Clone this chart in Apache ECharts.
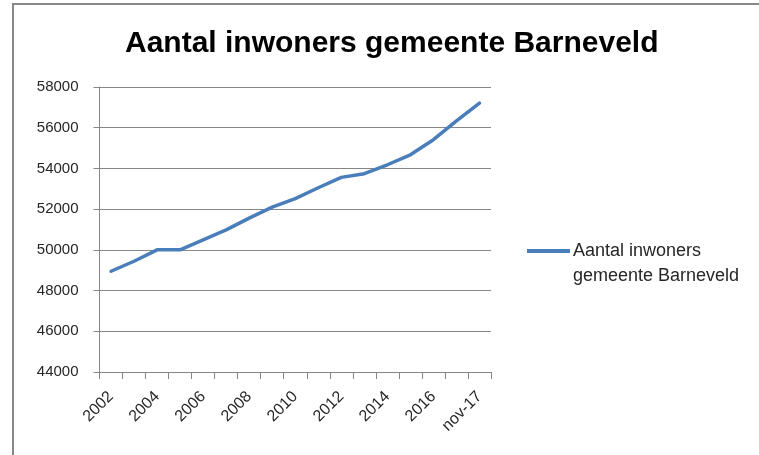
<!DOCTYPE html>
<html>
<head>
<meta charset="utf-8">
<script src="https://cdn.jsdelivr.net/npm/echarts@6/dist/echarts.min.js"></script>
<style>
	html, body { margin: 0; padding: 0; background: #fff; }
	#wrap { position: relative; width: 759px; height: 455px; overflow: hidden; }
	#frame { position: absolute; left: 12px; top: 3px; width: 800px; height: 500px; border: 2px solid #888; box-sizing: border-box; }
	#chart { position: absolute; left: 0; top: 0; width: 759px; height: 455px; }
</style>
</head>
<body>
<div id="wrap">
	<div id="frame"></div>
	<div id="chart"></div>
</div>
<script>
// categories (label shown every other year)
var years = ['2002', '2003', '2004', '2005', '2006', '2007', '2008', '2009', '2010',
	'2011', '2012', '2013', '2014', '2015', '2016', '2017', 'nov-17'];
// inhabitants
var inwoners = [48950, 49440, 50000, 50000, 50490, 50980, 51560, 52100, 52520,
	53050, 53560, 53740, 54180, 54670, 55410, 56340, 57210];
var yTicks = [44000, 46000, 48000, 50000, 52000, 54000, 56000, 58000];
var seriesName = 'Aantal inwoners gemeente Barneveld';

var chart = echarts.init(document.getElementById('chart'));
var axisColor = '#868686';
var textColor = '#262626';

chart.setOption({
	animation: false,
	title: {
		text: seriesName,
		left: 125,
		top: 29,
		padding: 0,
		textStyle: {
			fontFamily: 'Liberation Sans',
			fontWeight: 'bold',
			fontSize: 30,
			color: '#000'
		}
	},
	grid: {
		left: 99.5,
		right: 268,
		top: 87,
		bottom: 83
	},
	legend: {
		data: [seriesName],
		left: 527,
		top: 239,
		padding: 0,
		orient: 'vertical',
		itemWidth: 43,
		itemHeight: 42,
		itemGap: 0,
		icon: 'path://M0,0H0.1V0H0Z M0,6H43V10H0Z M0,42H0.1V42H0Z',
		formatter: function() {
			return 'Aantal inwoners\ngemeente Barneveld';
		},
		textStyle: {
			fontFamily: 'Liberation Sans',
			fontSize: 18,
			lineHeight: 25,
			color: textColor,
			padding: [0, 0, 0, -2]
		}
	},
	xAxis: [{
		type: 'category',
		data: years,
		boundaryGap: true,
		axisLine: { lineStyle: { color: axisColor, width: 1 } },
		axisTick: { show: true, length: 7, interval: 0, lineStyle: { color: axisColor } },
		axisLabel: {
			interval: 1,
			rotate: 45,
			margin: 22,
			fontFamily: 'Liberation Sans',
			fontSize: 16,
			color: textColor
		},
		splitLine: { show: false }
	}],
	yAxis: [{
		type: 'value',
		min: yTicks[0],
		max: yTicks[yTicks.length - 1],
		interval: 2000,
		axisLine: { show: true, lineStyle: { color: axisColor, width: 1 } },
		axisTick: { show: true, length: 6, lineStyle: { color: axisColor } },
		axisLabel: {
			margin: 21,
			fontFamily: 'Liberation Sans',
			fontSize: 15,
			color: textColor,
			formatter: function(v) { return String(v); }
		},
		splitLine: { show: true, lineStyle: { color: axisColor, width: 1 } }
	}],
	series: [{
		name: seriesName,
		type: 'line',
		data: inwoners,
		symbol: 'none',
		smooth: false,
		lineStyle: { color: '#4a7ebb', width: 3.5, cap: 'round', join: 'round' },
		itemStyle: { color: '#4a7ebb' }
	}]
});
</script>
</body>
</html>
